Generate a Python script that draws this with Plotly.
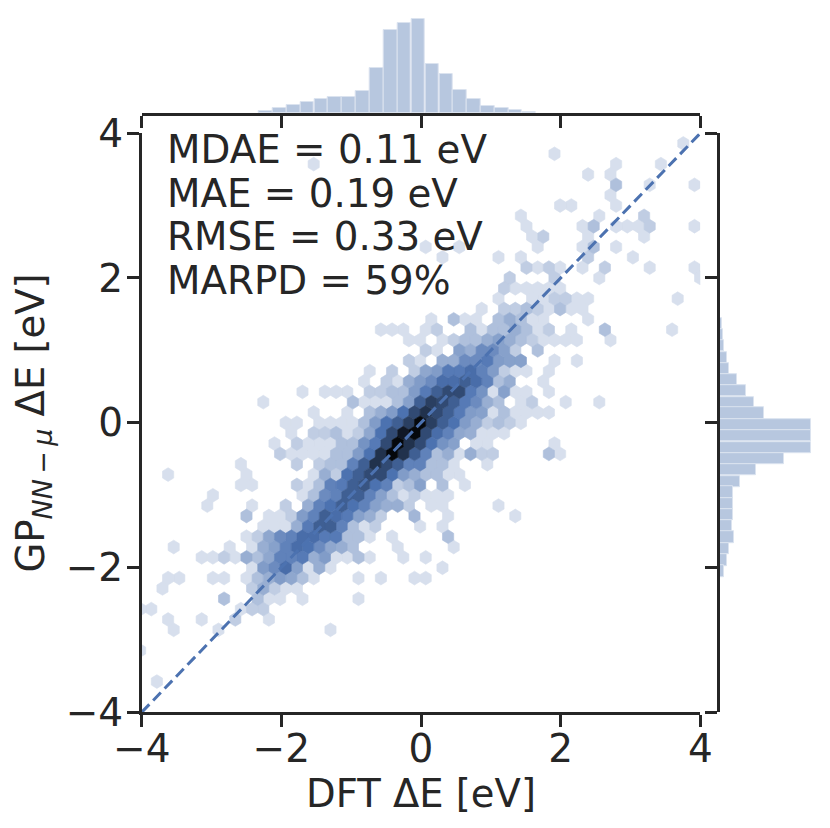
import colorsys
import math
import plotly.graph_objects as go

# Hexbin counts, one list per grid row: (column, count)
# row r sits at y = hex_y0 + r * hex_dy, odd rows are shifted by half a column
row_m25 = [(37,1)]
row_m24 = [(26,1)]
row_m23 = [(4,1),(31,1),(35,1)]
row_m22 = [(29,1),(31,1)]
row_m21 = [(31,3),(34,1),(38,1)]
row_m20 = [(31,1)]
row_m19 = [(26,1),(27,1),(31,1)]
row_m18 = [(23,1),(30,1),(34,2)]
row_m17 = [(23,1),(28,1),(29,3),(31,1),(32,1),(33,1),(34,2),(38,1)]
row_m16 = [(24,1),(25,2),(29,1),(34,1)]
row_m15 = [(14,1),(17,1),(24,1),(28,1),(29,3),(31,1)]
row_m14 = [(16,1),(21,1),(23,1),(29,2),(33,1)]
row_m13 = [(23,2),(24,1),(25,2),(26,1),(28,1),(30,2),(34,1),(38,1)]
row_m12 = [(22,2),(26,2),(30,1),(39,1)]
row_m11 = [(21,2),(22,1),(23,1),(24,1),(25,1),(26,1)]
row_m10 = [(21,1),(24,1),(25,1),(26,2),(27,2),(28,1),(29,1),(37,1)]
row_m9 = [(19,1),(21,2),(22,2),(23,3),(24,2),(25,1),(26,3),(27,1),(28,1)]
row_m8 = [(15,1),(17,3),(18,1),(19,1),(21,3),(22,5),(23,3),(24,1),(25,1),(29,1)]
row_m7 = [(10,1),(11,1),(12,1),(14,1),(15,2),(18,3),(19,1),(20,3),(21,3),(22,5),(23,3),(24,1),(25,2),(27,1),(30,3),(36,1)]
row_m6 = [(13,1),(14,1),(16,1),(17,2),(18,3),(19,3),(20,5),(21,7),(22,5),(23,3),(24,2),(25,1),(26,1),(27,1),(28,1),(31,1)]
row_m5 = [(14,2),(15,1),(17,7),(18,5),(19,12),(20,12),(21,7),(22,2),(24,3)]
row_m4 = [(13,2),(14,1),(16,5),(17,5),(18,12),(19,12),(20,18),(21,8),(22,7),(23,7),(26,1),(28,1)]
row_m3 = [(9,1),(11,2),(13,2),(14,6),(15,8),(16,18),(17,18),(18,25),(19,15),(20,8),(21,2),(22,1),(23,1),(25,1)]
row_m2 = [(9,1),(11,2),(12,1),(13,5),(14,8),(15,12),(16,25),(17,25),(18,37),(19,25),(20,15),(21,3),(22,5),(25,1)]
row_m1 = [(3,1),(5,1),(6,1),(7,1),(9,2),(10,2),(11,3),(12,3),(13,8),(14,18),(15,37),(16,66),(17,66),(18,18),(19,10),(20,1),(21,7),(22,1),(23,1),(25,1)]
row_0 = [(0,1),(8,3),(9,1),(10,1),(11,1),(12,3),(13,7),(14,37),(15,90),(16,66),(17,37),(18,18),(19,12),(20,5),(21,3),(23,1),(24,2),(27,1),(30,1)]
row_1 = [(4,1),(7,1),(9,3),(10,5),(11,8),(12,22),(13,66),(14,128),(15,66),(16,37),(17,18),(18,8),(19,7),(20,1),(21,3),(22,1),(23,1),(24,1),(25,1)]
row_2 = [(2,1),(3,1),(5,1),(6,1),(7,1),(8,1),(9,3),(10,8),(11,22),(12,37),(13,90),(14,400),(15,90),(16,37),(17,22),(18,8),(19,5),(20,2),(21,3),(22,2),(23,1)]
row_3 = [(2,1),(4,2),(5,2),(6,3),(7,1),(8,2),(9,6),(10,22),(11,66),(12,256),(13,400),(14,66),(15,25),(16,15),(17,6),(18,5),(19,1),(20,1),(21,1)]
row_4 = [(1,1),(3,2),(4,1),(5,1),(6,1),(7,3),(8,3),(9,10),(10,18),(11,66),(12,400),(13,128),(14,66),(15,22),(16,10),(17,7),(19,1),(20,1),(26,1)]
row_5 = [(1,2),(2,1),(3,1),(4,1),(5,1),(6,3),(7,3),(8,8),(9,22),(10,128),(11,400),(12,128),(13,37),(14,15),(15,3),(16,5),(17,1),(18,5),(19,2),(20,2),(25,3),(26,1)]
row_6 = [(-2,1),(3,2),(5,2),(6,3),(7,3),(8,15),(9,37),(10,128),(11,66),(12,37),(13,15),(14,15),(15,3),(16,3),(17,1),(20,1)]
row_7 = [(-9,1),(-2,1),(4,1),(5,5),(6,2),(7,22),(8,37),(9,66),(10,66),(11,22),(12,8),(13,5),(14,3),(15,3),(16,1),(17,1)]
row_8 = [(-2,1),(-1,1),(3,2),(4,1),(5,3),(6,15),(7,18),(8,37),(9,50),(10,22),(11,15),(12,2),(13,3),(14,7),(16,3),(18,1)]
row_9 = [(-5,1),(3,1),(4,3),(5,12),(6,15),(7,37),(8,37),(9,15),(10,7),(11,3),(12,1),(13,2),(14,1),(15,1),(16,1)]
row_10 = [(-5,1),(-1,1),(2,2),(4,5),(5,15),(6,22),(7,37),(8,22),(9,15),(10,7),(11,5),(12,5),(13,2),(15,1),(16,1),(21,1)]
row_11 = [(-2,3),(0,1),(1,1),(2,2),(3,8),(4,15),(5,37),(6,25),(7,18),(8,7),(9,5),(10,2),(13,4),(16,1),(22,1)]
row_12 = [(0,1),(1,1),(2,1),(3,5),(4,18),(5,37),(6,37),(7,15),(8,3),(9,1),(10,2),(14,1),(16,1)]
row_13 = [(-2,1),(-1,2),(0,6),(1,12),(2,15),(3,25),(4,25),(5,18),(6,18),(7,3),(8,3),(9,1),(11,1),(16,3)]
row_14 = [(-8,1),(-3,1),(-1,1),(0,5),(1,7),(2,15),(3,25),(4,22),(5,12),(6,6),(7,5),(8,3),(12,1),(17,1)]
row_15 = [(-6,1),(-5,1),(-4,2),(-3,1),(-2,5),(-1,3),(0,6),(1,15),(2,15),(3,18),(4,5),(5,8),(6,1),(7,1),(8,3),(9,1),(12,1),(14,1)]
row_16 = [(-1,1),(0,8),(1,12),(2,25),(3,7),(4,1),(5,5),(6,1),(16,1)]
row_17 = [(-9,1),(-8,1),(-5,1),(-4,1),(-2,1),(-1,3),(0,5),(1,8),(2,6),(3,3),(4,1),(8,1),(10,1),(13,1),(14,1)]
row_18 = [(-9,1),(-1,2),(0,5),(1,2),(2,1),(3,1)]
row_19 = [(-4,3),(-1,3),(0,1),(1,1),(3,1),(8,1)]
row_20 = [(-11,1),(-10,1),(-2,1),(-1,2),(0,2)]
row_21 = [(-9,1),(-6,1),(-3,2),(0,1)]
row_22 = [(-8,1),(-4,1),(6,1)]
row_24 = [(-11,1)]
row_27 = [(-10,1)]

hex_rows = [(-25,row_m25),(-24,row_m24),(-23,row_m23),(-22,row_m22),(-21,row_m21),(-20,row_m20),
            (-19,row_m19),(-18,row_m18),(-17,row_m17),(-16,row_m16),(-15,row_m15),(-14,row_m14),
            (-13,row_m13),(-12,row_m12),(-11,row_m11),(-10,row_m10),(-9,row_m9),(-8,row_m8),
            (-7,row_m7),(-6,row_m6),(-5,row_m5),(-4,row_m4),(-3,row_m3),(-2,row_m2),(-1,row_m1),
            (0,row_0),(1,row_1),(2,row_2),(3,row_3),(4,row_4),(5,row_5),(6,row_6),(7,row_7),
            (8,row_8),(9,row_9),(10,row_10),(11,row_11),(12,row_12),(13,row_13),(14,row_14),
            (15,row_15),(16,row_16),(17,row_17),(18,row_18),(19,row_19),(20,row_20),(21,row_21),
            (22,row_22),(24,row_24),(27,row_27)]

hex_x0 = -2.2586
hex_y0 = 0.2845
hex_dx = 0.1604
hex_dy = -0.14296

# marginal histograms
top_centers = [-2.22,-2.02,-1.82,-1.63,-1.43,-1.23,-1.03,-0.83,-0.63,-0.44,-0.24,-0.04,0.16,0.36,0.56,0.75,0.95,1.15,1.35,1.55]
top_heights = [8,17,26,33,43,48,48,67,137,249,271,283,149,117,69,42,23,15,9,5]
right_centers = [1.37,1.21,1.06,0.90,0.75,0.59,0.44,0.28,0.13,-0.03,-0.18,-0.34,-0.50,-0.65,-0.81,-0.96,-1.12,-1.27,-1.43,-1.58,-1.74,-1.90,-2.05]
right_heights = [5,8,12,22,28,52,77,103,131,272,274,272,191,108,59,40,40,40,37,41,28,22,12]

diag = [-4, 4]
ticks = [-4, -2, 0, 2, 4]
stat_labels = ["MDAE = 0.11 eV", "MAE = 0.19 eV", "RMSE = 0.33 eV", "MARPD = 59%"]
stat_y = [3.77, 3.17, 2.57, 1.97]

BLUE = "#4c72b0"
INK = "#262626"
FONT = "DejaVu Sans"
W, H = 830, 828

def hex_color(count):
    # white -> blue -> black in lightness, log scaled like the hexbin
    h, l, s = colorsys.rgb_to_hls(76/255, 114/255, 176/255)
    light = 1 - math.log10(count + 1) / 2.7
    r, g, b = colorsys.hls_to_rgb(h, light, s)
    return "rgb(%d,%d,%d)" % (r*255, g*255, b*255)

# one filled trace per count, hexagons separated by None
polys = {}
for r, cells in hex_rows:
    for col, count in cells:
        cx = hex_x0 + (col + 0.5 * (r % 2)) * hex_dx
        cy = hex_y0 + r * hex_dy
        a, b = hex_dx / 2, abs(hex_dy) / 3
        xs = [cx, cx+a, cx+a, cx, cx-a, cx-a, cx, None]
        ys = [cy+2*b, cy+b, cy-b, cy-2*b, cy-b, cy+b, cy+2*b, None]
        polys.setdefault(count, ([], []))
        polys[count][0].extend(xs)
        polys[count][1].extend(ys)

fig = go.Figure()
for count in sorted(polys):
    fig.add_trace(go.Scatter(x=polys[count][0], y=polys[count][1], mode="lines", fill="toself",
                             fillcolor=hex_color(count), line=dict(width=0.6, color=hex_color(count)), hoverinfo="skip"))

fig.add_trace(go.Scatter(x=diag, y=diag, mode="lines", line=dict(color=BLUE, width=3, dash="11px,5.5px")))

fig.add_trace(go.Bar(x=top_centers, y=top_heights, width=0.1983, xaxis="x2", yaxis="y2",
                     marker=dict(color="#b7c7df", line=dict(color="#dbe3ef", width=1))))
fig.add_trace(go.Bar(x=right_heights, y=right_centers, width=0.156, orientation="h", xaxis="x3", yaxis="y3",
                     marker=dict(color="#b7c7df", line=dict(color="#dbe3ef", width=1))))

axis_style = dict(showgrid=False, zeroline=False, showline=True, linecolor=INK, linewidth=2.5,
                  ticks="outside", ticklen=12, tickwidth=2.5, tickcolor=INK, automargin=False,
                  tickvals=ticks, range=[-4, 4], tickfont=dict(size=39, color=INK, family=FONT))
x_dom = [141.7/W, 700.3/W]
y_dom = [1-712.3/H, 1-133.2/H]
hidden = dict(visible=False, automargin=False, showticklabels=False)

fig.update_layout(
    template=None,
    width=W, height=H, margin=dict(l=0, r=0, t=0, b=0),
    plot_bgcolor="white", paper_bgcolor="white", showlegend=False, bargap=0,
    font=dict(family=FONT, color=INK),
    xaxis=dict(domain=x_dom, anchor="y", ticklabelstandoff=-12, title=dict(text="DFT ΔE [eV]", standoff=4, font=dict(size=38.5, color=INK)), **axis_style),
    yaxis=dict(domain=y_dom, anchor="x", ticklabelstandoff=-4, **axis_style),
    xaxis2=dict(domain=x_dom, anchor="y2", showticklabels=False, **axis_style),
    yaxis2=dict(domain=[1-113.3/H, 1], anchor="x2", range=[0, 340], **hidden),
    xaxis3=dict(domain=[720/W, 1], anchor="y3", range=[0, 330], **hidden),
    yaxis3=dict(domain=y_dom, anchor="x3", showticklabels=False, **axis_style),
)

fig.add_annotation(x=32/W, y=1-423.5/H, xref="paper", yref="paper", text="GP<sub><i>NN\u2009−\u2009μ</i></sub> ΔE [eV]", textangle=-90,
                   showarrow=False, xanchor="center", yanchor="middle", font=dict(size=38.5, color=INK, family=FONT))

for label, y in zip(stat_labels, stat_y):
    fig.add_annotation(x=-3.66, y=y, xref="x", yref="y", text=label, showarrow=False,
                       xanchor="left", yanchor="middle", font=dict(size=38.8, color=INK, family=FONT))

fig.write_html("out.html", config={"displayModeBar": False}, post_script="document.body.style.margin='0';")
